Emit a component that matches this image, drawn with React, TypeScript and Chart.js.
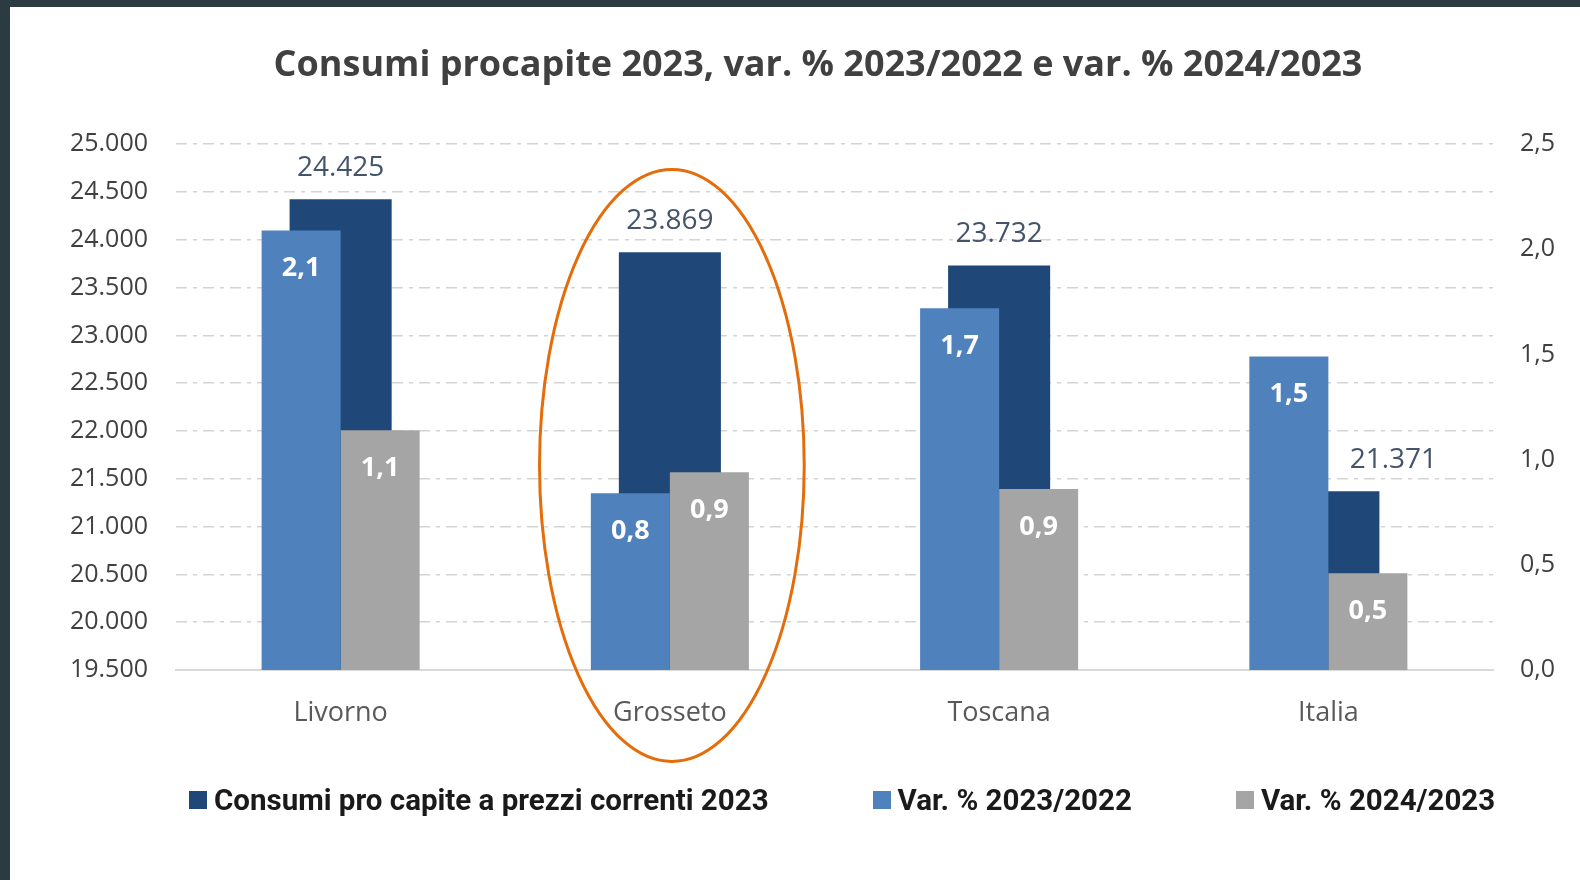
import React, { useEffect, useRef } from "react";
import { Chart, registerables } from "chart.js";

Chart.register(...registerables);

// ---------- data ----------
const categories = ["Livorno", "Grosseto", "Toscana", "Italia"];
const consumi2023 = [24425, 23869, 23732, 21371];
const var2023su2022 = [2.09, 0.84, 1.72, 1.49];
const var2024su2023 = [1.14, 0.94, 0.86, 0.46];
const seriesNames = [
  "Consumi pro capite a prezzi correnti 2023",
  "Var. % 2023/2022",
  "Var. % 2024/2023",
];
const seriesColors = ["#1F4878", "#4F81BD", "#A5A5A5"];
const chartTitle = "Consumi procapite 2023, var. % 2023/2022 e var. % 2024/2023";
const leftAxis = { min: 19500, max: 25000, step: 500 };
const rightAxis = { min: 0, max: 2.5, step: 0.5 };
const highlightIndex = 1; // Grosseto

const fmtThousands = (v: number) =>
  Math.round(v).toString().replace(/\B(?=(\d{3})+(?!\d))/g, ".");
const fmtDec = (v: number) => v.toFixed(1).replace(".", ",");

const valueLabelsPlugin = {
  id: "valueLabels",
  afterDatasetsDraw(chart: any) {
    const ctx = chart.ctx;
    const darkMeta = chart.getDatasetMeta(0);
    const blueMeta = chart.getDatasetMeta(1);
    ctx.save();
    ctx.textAlign = "center";
    ctx.textBaseline = "middle";
    ctx.font = "28px 'Open Sans'";
    ctx.fillStyle = "#44546A";
    darkMeta.data.forEach((bar: any, i: number) => {
      let lx = bar.x;
      const ly = bar.y - 31;
      const blue = blueMeta.data[i];
      if (blue && blue.y < ly + 20) lx = bar.x + bar.width / 2 + 14;
      ctx.fillText(fmtThousands(chart.data.datasets[0].data[i]), lx, ly);
    });
    ctx.font = "bold 27px 'Open Sans'";
    ctx.fillStyle = "#FFFFFF";
    [1, 2].forEach((di) => {
      const meta = chart.getDatasetMeta(di);
      const vals = chart.data.datasets[di].data;
      meta.data.forEach((bar: any, i: number) => {
        ctx.fillText(fmtDec(vals[i]), bar.x, bar.y + 38);
      });
    });
    ctx.restore();
  },
};

const ellipsePlugin = {
  id: "highlightEllipse",
  afterDraw(chart: any) {
    const { ctx, chartArea } = chart;
    const x = chart.scales.x;
    const h = chartArea.bottom - chartArea.top;
    const cw = (chartArea.right - chartArea.left) / categories.length;
    const cx = x.getPixelForValue(highlightIndex) + 2;
    ctx.save();
    ctx.beginPath();
    ctx.ellipse(cx, chartArea.top + 0.611 * h, 0.402 * cw, 0.563 * h, 0, 0, Math.PI * 2);
    ctx.strokeStyle = "#E46C0A";
    ctx.lineWidth = 3;
    ctx.stroke();
    ctx.restore();
  },
};

function Legend() {
  return (
    <div
      style={{
        position: "absolute",
        left: 179,
        top: 778,
        height: 30,
        display: "flex",
        alignItems: "center",
        gap: 104,
        whiteSpace: "nowrap",
      }}
    >
      {seriesNames.map((name, i) => (
        <div key={name} style={{ display: "flex", alignItems: "center" }}>
          <span
            style={{
              display: "inline-block",
              width: 18,
              height: 18,
              background: seriesColors[i],
              marginRight: 7,
            }}
          />
          <span
            style={{
              fontFamily: "Roboto, sans-serif",
              fontWeight: 700,
              fontSize: 29.5,
              lineHeight: "30px",
              color: "#1A1A1A",
            }}
          >
            {name}
          </span>
        </div>
      ))}
    </div>
  );
}

export default function App() {
  const canvasRef = useRef<HTMLCanvasElement | null>(null);

  useEffect(() => {
    if (!canvasRef.current) return;
    const chart = new Chart(canvasRef.current, {
      type: "bar",
      data: {
        labels: categories,
        datasets: [
          {
            label: seriesNames[0],
            data: consumi2023,
            backgroundColor: seriesColors[0],
            yAxisID: "y",
            grouped: false,
            order: 1,
            categoryPercentage: 0.31,
            barPercentage: 1,
            borderWidth: 0,
          },
          {
            label: seriesNames[1],
            data: var2023su2022,
            backgroundColor: seriesColors[1],
            yAxisID: "y1",
            order: 0,
            categoryPercentage: 0.48,
            barPercentage: 1,
            borderWidth: 0,
          },
          {
            label: seriesNames[2],
            data: var2024su2023,
            backgroundColor: seriesColors[2],
            yAxisID: "y1",
            order: 0,
            categoryPercentage: 0.48,
            barPercentage: 1,
            borderWidth: 0,
          },
        ] as any,
      },
      options: {
        responsive: false,
        devicePixelRatio: 1,
        animation: false,
        layout: { padding: { left: 46, right: 0, top: 0, bottom: 0 } },
        plugins: {
          legend: { display: false },
          tooltip: { enabled: false },
          title: {
            display: true,
            text: chartTitle,
            color: "#404040",
            font: { family: "'Open Sans'", size: 36, weight: "bold" },
            padding: { top: 37, bottom: 57 },
          },
        },
        scales: {
          x: {
            grid: { display: false, drawTicks: false },
            border: { display: true, color: "#D9D9D9", width: 2 },
            ticks: {
              color: "#595959",
              font: { family: "'Open Sans'", size: 27 },
              padding: 27,
            },
            afterFit: (s: any) => {
              s.height = 210;
            },
          },
          y: {
            position: "left",
            min: leftAxis.min,
            max: leftAxis.max,
            grid: { color: "#D4D4D4", lineWidth: 1.5, drawTicks: false },
            border: { display: false, dash: [11, 6, 4, 6] },
            ticks: {
              stepSize: leftAxis.step,
              color: "#404040",
              font: { family: "'Open Sans'", size: 25 },
              padding: 28,
              callback: (v: any) => fmtThousands(Number(v)),
            },
            afterFit: (s: any) => {
              s.width = 120;
            },
          },
          y1: {
            position: "right",
            min: rightAxis.min,
            max: rightAxis.max,
            grid: { display: false, drawTicks: false },
            border: { display: false },
            ticks: {
              stepSize: rightAxis.step,
              color: "#404040",
              font: { family: "'Open Sans'", size: 25 },
              padding: 27,
              callback: (v: any) => fmtDec(Number(v)),
            },
            afterFit: (s: any) => {
              s.width = 87;
            },
          },
        },
      } as any,
      plugins: [valueLabelsPlugin, ellipsePlugin],
    });
    return () => chart.destroy();
  }, []);

  return (
    <div
      style={{
        position: "fixed",
        left: 0,
        top: 0,
        width: 1580,
        height: 880,
        background: "#2C3B42",
        overflow: "hidden",
      }}
    >
      <div
        style={{
          position: "absolute",
          left: 10,
          top: 7,
          width: 1570,
          height: 873,
          background: "#FFFFFF",
        }}
      >
        <canvas ref={canvasRef} width={1570} height={873} style={{ display: "block" }} />
        <Legend />
      </div>
    </div>
  );
}
